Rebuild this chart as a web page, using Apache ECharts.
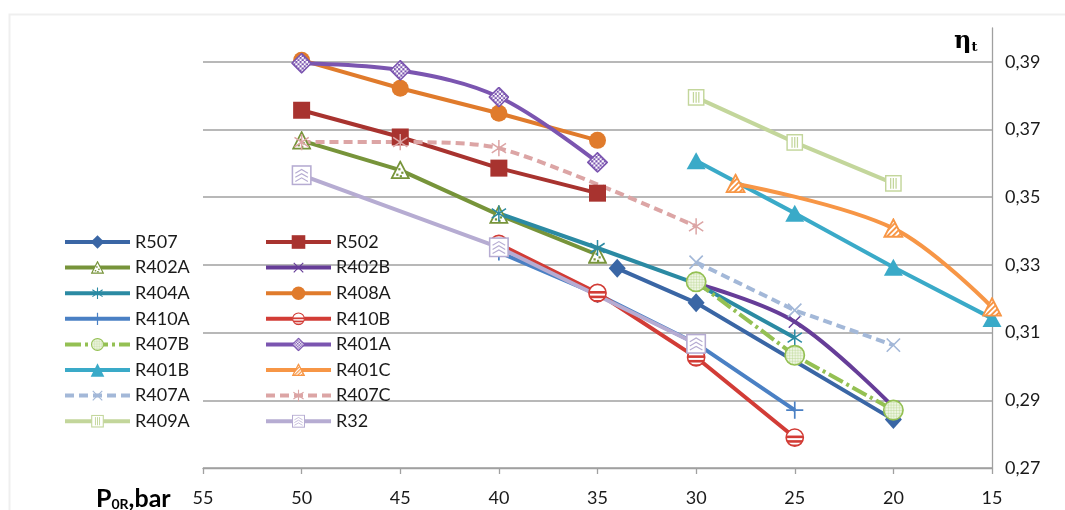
<!DOCTYPE html>
<html><head><meta charset="utf-8">
<script src="https://cdn.jsdelivr.net/npm/echarts@6/dist/echarts.min.js"></script>
<style>html,body{margin:0;padding:0;background:#fff}#c{width:1065px;height:510px}</style>
</head><body><div id="c"></div>
<script>
// ---------- DATA ----------
const xTickValues = [55, 50, 45, 40, 35, 30, 25, 20, 15];
const yTickLabels = ['0,27', '0,29', '0,31', '0,33', '0,35', '0,37', '0,39'];
const legendLeftNames  = ['R507', 'R402A', 'R404A', 'R410A', 'R407B', 'R401B', 'R407A', 'R409A'];
const legendRightNames = ['R502', 'R402B', 'R408A', 'R410B', 'R401A', 'R401C', 'R407C', 'R32'];

const p_R507  = [34, 30, 20];           const eta_R507  = [0.3290, 0.3188, 0.2843];
const p_R502  = [50, 45, 40, 35];       const eta_R502  = [0.3757, 0.3678, 0.3586, 0.3512];
const p_R402A = [50, 45, 40, 35];       const eta_R402A = [0.3667, 0.3580, 0.3448, 0.3330];
const p_R402B = [30, 25, 20];           const eta_R402B = [0.3245, 0.3132, 0.2880];
const p_R404A = [40, 35, 30, 25];       const eta_R404A = [0.3452, 0.3350, 0.3245, 0.3085];
const p_R408A = [50, 45, 40, 35];       const eta_R408A = [0.3905, 0.3822, 0.3748, 0.3668];
const p_R410A = [40, 35, 30, 25];       const eta_R410A = [0.3338, 0.3213, 0.3068, 0.2871];
const p_R410B = [40, 35, 30, 25];       const eta_R410B = [0.3362, 0.3217, 0.3027, 0.2790];
const p_R407B = [30, 25, 20];           const eta_R407B = [0.3250, 0.3033, 0.2871];
const p_R401A = [50, 45, 40, 35];       const eta_R401A = [0.3896, 0.3875, 0.3796, 0.3603];
const p_R401B = [30, 25, 20, 15];       const eta_R401B = [0.3608, 0.3453, 0.3293, 0.3142];
const p_R401C = [28, 20, 15];           const eta_R401C = [0.3540, 0.3408, 0.3175];
const p_R407A = [30, 25, 20];           const eta_R407A = [0.3308, 0.3166, 0.3063];
const p_R407C = [50, 45, 40, 30];       const eta_R407C = [0.3663, 0.3663, 0.3645, 0.3414];
const p_R409A = [30, 25, 20];           const eta_R409A = [0.3795, 0.3662, 0.3541];
const p_R32   = [50, 40, 30];           const eta_R32   = [0.3565, 0.3352, 0.3067];

const seriesData = {
  R507: [p_R507, eta_R507], R502: [p_R502, eta_R502], R402A: [p_R402A, eta_R402A], R402B: [p_R402B, eta_R402B],
  R404A: [p_R404A, eta_R404A], R408A: [p_R408A, eta_R408A], R410A: [p_R410A, eta_R410A], R410B: [p_R410B, eta_R410B],
  R407B: [p_R407B, eta_R407B], R401A: [p_R401A, eta_R401A], R401B: [p_R401B, eta_R401B], R401C: [p_R401C, eta_R401C],
  R407A: [p_R407A, eta_R407A], R407C: [p_R407C, eta_R407C], R409A: [p_R409A, eta_R409A], R32: [p_R32, eta_R32]
};
const drawOrder = ['R507','R502','R402A','R402B','R404A','R408A','R410A','R410B','R407B','R401A','R401B','R401C','R407A','R407C','R409A','R32'];

// ---------- STYLE ----------
function svgSym(inner) {
  return 'image://data:image/svg+xml;charset=utf-8,' + encodeURIComponent(
    '<svg xmlns="http://www.w3.org/2000/svg" width="40" height="40" viewBox="0 0 20 20">' + inner + '</svg>');
}
function xMark(c) { return svgSym('<path d="M3 3L17 17M17 3L3 17" stroke="' + c + '" stroke-width="1.7" fill="none"/>'); }
function astMark(c) { return svgSym('<path d="M10 1.5V18.5M2.5 5L17.5 15M17.5 5L2.5 15" stroke="' + c + '" stroke-width="1.6" fill="none"/>'); }
const TRI = '10,1.5 18.5,18 1.5,18';

const C = {
  R507: '#3a66a5', R502: '#a8332f', R402A: '#77943a', R402B: '#663d98', R404A: '#2b8aa3', R408A: '#e07b2c',
  R410A: '#4a80c4', R410B: '#d23c36', R407B: '#94c053', R401A: '#7b55b0', R401B: '#3aaac8', R401C: '#f79646',
  R407A: '#a3b8d8', R407C: '#dca5a5', R409A: '#c3d69b', R32: '#b6acd2'
};
const styles = {
  R507:  { symbol: 'diamond', size: [17, 19] },
  R502:  { symbol: 'rect', size: 17 },
  R402A: { symbol: svgSym('<polygon points="' + TRI + '" fill="#fff" stroke="' + C.R402A + '" stroke-width="1.8"/>' +
           '<rect x="8" y="8" width="2.2" height="2.2" fill="' + C.R402A + '"/><rect x="11" y="11.5" width="2.2" height="2.2" fill="' + C.R402A + '"/>' +
           '<rect x="6" y="13.5" width="2.2" height="2.2" fill="' + C.R402A + '"/><rect x="9.5" y="15" width="2.2" height="2.2" fill="' + C.R402A + '"/>'), size: 20 },
  R402B: { symbol: xMark(C.R402B), size: 17 },
  R404A: { symbol: astMark(C.R404A), size: 19 },
  R408A: { symbol: 'circle', size: 17 },
  R410A: { symbol: svgSym('<path d="M10 1V19M1 10H19" stroke="' + C.R410A + '" stroke-width="1.8" fill="none"/>'), size: 19 },
  R410B: { symbol: svgSym('<defs><clipPath id="k"><circle cx="10" cy="10" r="8.6"/></clipPath></defs>' +
           '<circle cx="10" cy="10" r="8.6" fill="#fff"/><g clip-path="url(#k)" fill="' + C.R410B + '"><rect x="0" y="8" width="20" height="2.6"/>' +
           '<rect x="0" y="12.6" width="20" height="2.6"/><rect x="0" y="17" width="20" height="3"/></g>' +
           '<circle cx="10" cy="10" r="8.6" fill="none" stroke="' + C.R410B + '" stroke-width="1.6"/>'), size: 20 },
  R407B: { symbol: svgSym('<defs><pattern id="g" width="2.5" height="2.5" patternUnits="userSpaceOnUse"><rect width="2.5" height="2.5" fill="#eef5e2"/>' +
           '<path d="M0 0H2.5M0 0V2.5" stroke="#b5d38a" stroke-width="0.7"/></pattern></defs>' +
           '<circle cx="10" cy="10" r="8.8" fill="url(#g)" stroke="' + C.R407B + '" stroke-width="1.5"/>'), size: 22 },
  R401A: { symbol: svgSym('<defs><pattern id="q" width="4" height="4" patternUnits="userSpaceOnUse"><rect width="4" height="4" fill="#fff"/>' +
           '<rect width="2" height="2" fill="' + C.R401A + '"/><rect x="2" y="2" width="2" height="2" fill="' + C.R401A + '"/></pattern></defs>' +
           '<polygon points="10,0.8 19.2,10 10,19.2 0.8,10" fill="url(#q)" stroke="' + C.R401A + '" stroke-width="1.5"/>'), size: 21 },
  R401B: { symbol: 'triangle', size: [19, 17] },
  R401C: { symbol: svgSym('<defs><pattern id="s" width="3.6" height="3.6" patternUnits="userSpaceOnUse" patternTransform="rotate(45)">' +
           '<rect width="3.6" height="3.6" fill="#fff"/><rect width="1.8" height="3.6" fill="' + C.R401C + '"/></pattern></defs>' +
           '<polygon points="' + TRI + '" fill="url(#s)" stroke="' + C.R401C + '" stroke-width="1.8"/>'), size: 21 },
  R407A: { symbol: xMark(C.R407A), size: 19 },
  R407C: { symbol: astMark(C.R407C), size: 19 },
  R409A: { symbol: svgSym('<rect x="1.5" y="1.5" width="17" height="17" fill="#fff" stroke="' + C.R409A + '" stroke-width="1.6"/>' +
           '<path d="M7 4V16M10 4V16M13 4V16" stroke="' + C.R409A + '" stroke-width="1.4"/>'), size: 18 },
  R32:   { symbol: svgSym('<rect x="1.2" y="1.2" width="17.6" height="17.6" fill="#fff" stroke="' + C.R32 + '" stroke-width="1.5"/>' +
           '<path d="M4 8L10 4.5L16 8M4 12L10 8.5L16 12M4 16L10 12.5L16 16" stroke="' + C.R32 + '" stroke-width="1.1" fill="none"/>'), size: 21 }
};
const lineTypes = { R407A: [9, 5], R407C: [9, 5], R407B: [16, 4, 3, 4] };
const smoothSet = { R401A: 0.35, R402B: 0.35, R401C: 0.35, R407C: 0.25 };

const FONT = 'Lato';
const series = drawOrder.map(name => {
  const [xs, ys] = seriesData[name];
  return {
    name, type: 'line', clip: false,
    data: xs.map((x, i) => [x, ys[i]]),
    symbol: styles[name].symbol, symbolSize: styles[name].size, symbolKeepAspect: true,
    showAllSymbol: true,
    smooth: smoothSet[name] || false,
    lineStyle: { color: C[name], width: 4, type: lineTypes[name] || 'solid', cap: 'butt' },
    itemStyle: { color: C[name], borderWidth: 0 },
    emphasis: { disabled: true },
    animation: false
  };
});

function legend(names, left) {
  return {
    data: names, orient: 'vertical', left, top: 233, itemWidth: 65, itemHeight: 17, itemGap: 7.6,
    selectedMode: false, padding: 0,
    lineStyle: { width: 4 },
    textStyle: { fontFamily: FONT, fontSize: 18, color: '#1a1a1a' }
  };
}

const chart = echarts.init(document.getElementById('c'), null, { renderer: 'canvas' });
chart.setOption({
  backgroundColor: '#fff',
  animation: false,
  grid: { left: 203, right: 73, top: 28, bottom: 42 },
  legend: [legend(legendLeftNames, 63), legend(legendRightNames, 264)],
  xAxis: {
    type: 'value', inverse: true, min: 15, max: 55, interval: 5,
    axisLine: { show: true, onZero: false, lineStyle: { color: '#a0a0a0', width: 1.3 } },
    axisTick: { show: true, length: 6, lineStyle: { color: '#a0a0a0', width: 1.3 } },
    splitLine: { show: false },
    axisLabel: { fontFamily: FONT, fontSize: 18, color: '#1a1a1a', margin: 21,
      formatter: v => xTickValues.indexOf(v) >= 0 ? String(v) : '' }
  },
  yAxis: {
    type: 'value', position: 'right', min: 0.27, max: 0.40, interval: 0.01,
    axisLine: { show: true, lineStyle: { color: '#a0a0a0', width: 1.3 } },
    axisTick: { show: false },
    splitLine: { show: true, lineStyle: { color: ['#a0a0a0', 'rgba(0,0,0,0)'], width: 1.5 } },
    axisLabel: { fontFamily: FONT, fontSize: 18, color: '#1a1a1a', margin: 13,
      formatter: v => { const k = Math.round(v * 100); return (k % 2 === 1) ? (yTickLabels[(k - 27) / 2] || '') : ''; } }
  },
  graphic: [
    { type: 'rect', shape: { x: 9.5, y: 14.5, width: 1100, height: 600 }, style: { fill: 'none', stroke: '#efefef', lineWidth: 2 }, silent: true, z: -10 },
    { type: 'text', x: 96, y: 498, style: {
        text: '{b|P}{s|0R}{b|,bar}', verticalAlign: 'middle',
        rich: { b: { fontFamily: FONT, fontWeight: 'bold', fontSize: 25, color: '#111', lineHeight: 26, verticalAlign: 'bottom' },
                s: { fontFamily: FONT, fontWeight: 'bold', fontSize: 14, color: '#111', lineHeight: 4, verticalAlign: 'bottom' } } } },
    { type: 'text', x: 954, y: 41, style: {
        text: '{b|η}{s|t}', verticalAlign: 'middle',
        rich: { b: { fontFamily: 'DejaVu Serif', fontWeight: 'bold', fontSize: 24, color: '#111', lineHeight: 26, verticalAlign: 'bottom' },
                s: { fontFamily: 'DejaVu Serif', fontWeight: 'bold', fontSize: 13, color: '#111', lineHeight: 8, verticalAlign: 'bottom' } } } }
  ],
  series
});
</script></body></html>
